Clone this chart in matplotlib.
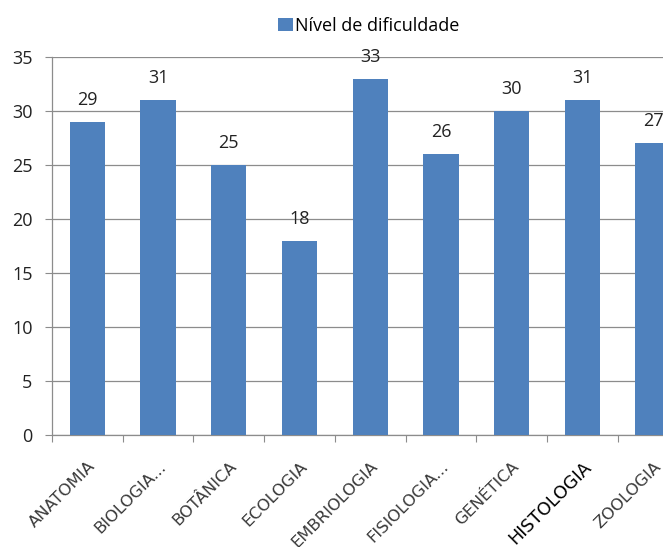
import matplotlib
matplotlib.use("Agg")
import matplotlib.pyplot as plt
import numpy as np

categories = ["ANATOMIA", "BIOLOGIA...", "BOTÂNICA", "ECOLOGIA", "EMBRIOLOGIA",
              "FISIOLOGIA...", "GENÉTICA", "HISTOLOGIA", "ZOOLOGIA"]
values = [29, 31, 25, 18, 33, 26, 30, 31, 27]
series_name = "Nível de dificuldade"
yticks = [0, 5, 10, 15, 20, 25, 30, 35]

plt.rcParams['font.family'] = ['Open Sans', 'DejaVu Sans']

fig = plt.figure(figsize=(6.63, 5.47), dpi=100)
ax = fig.add_axes([0.0784, 0.2048, 0.960, 0.691])

x = np.arange(len(categories))
bars = ax.bar(x, values, width=0.5, color="#4F81BD", label=series_name, zorder=3)

ax.set_xlim(-0.5, len(categories) - 0.5)
ax.set_ylim(0, 35)
ax.set_yticks(yticks)
ax.set_yticklabels([str(t) for t in yticks], fontsize=13, color="#222222")
ax.yaxis.grid(True, color="#8C8C8C", linewidth=0.9, zorder=0)
ax.set_axisbelow(True)

ax.set_xticks(np.arange(len(categories) + 1) - 0.5)
ax.set_xticklabels([])
ax.set_xticks(x, minor=True)
ax.tick_params(axis='x', which='minor', length=0, pad=17,
               labelfontfamily='DejaVu Sans', labelsize=11.8,
               labelcolor="#3A3A3A")
ax.set_xticklabels(categories, minor=True, rotation=45, ha='right',
                   rotation_mode='anchor')
for lbl in ax.get_xticklabels(minor=True):
    if lbl.get_text() == "HISTOLOGIA":
        lbl.set_color("black")
        lbl.set_fontsize(12.8)
ax.tick_params(axis='x', which='major', length=5, color="#8C8C8C")
ax.tick_params(axis='y', length=5, color="#8C8C8C", pad=9)

for s in ['top', 'right']:
    ax.spines[s].set_visible(False)
for s in ['left', 'bottom']:
    ax.spines[s].set_color("#8C8C8C")
    ax.spines[s].set_linewidth(0.9)

for xi, v in zip(x, values):
    ax.annotate(str(v), (xi, v), xytext=(0, 15.8), textcoords='offset points',
                ha='center', va='center', fontsize=13, color="#222222")

fig.legend(handles=[bars], labels=[series_name], loc='center',
           bbox_to_anchor=(0.5566, 0.953), frameon=False, fontsize=13,
           handlelength=0.8, handleheight=0.75, handletextpad=0.15)

fig.savefig("out.png", dpi=100)
